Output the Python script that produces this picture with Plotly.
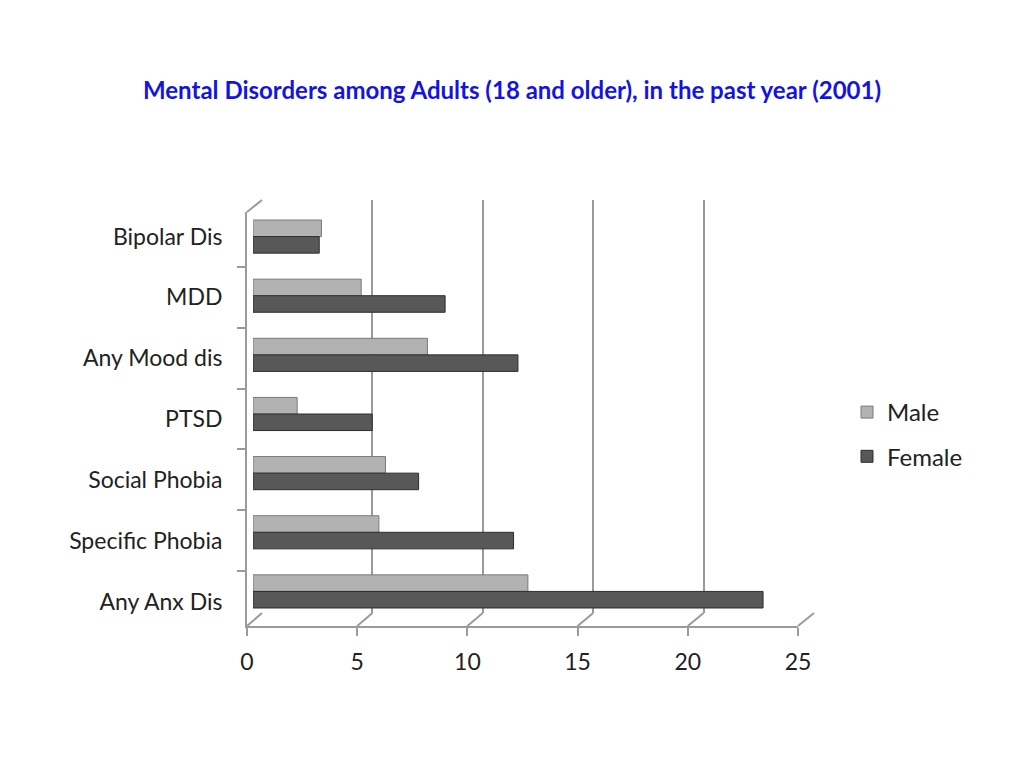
import plotly.graph_objects as go

W, H = 1024, 768
PAD = 8  # default body margin of the page

categories = ["Bipolar Dis", "MDD", "Any Mood dis", "PTSD",
              "Social Phobia", "Specific Phobia", "Any Anx Dis"]
male = [3.1, 4.9, 7.9, 2.0, 6.0, 5.7, 12.45]
female = [3.0, 8.7, 12.0, 5.4, 7.5, 11.8, 23.1]
x_ticks = [0, 5, 10, 15, 20, 25]
x_max = 25

FONT = "Lato"
GRID = "#9a9a9a"

FW, FH = W - 2 * PAD, H - 2 * PAD


def px(x):
    return (x - PAD) / FW


def py(y):
    return 1 - (y - PAD) / FH


# domains of the three layers of the fake 3d box (back wall, bars, front axes)
grid_x = [px(262), px(814)]
grid_y = [py(613), py(200)]
bar_x = [px(253), px(805)]
bar_y = [py(621), py(207)]
front_x = [px(247), px(798)]
front_y = [py(626), py(212)]

fig = go.Figure()

# back wall gridlines
fig.add_trace(go.Scatter(x=x_ticks, y=[0] * len(x_ticks), mode="markers",
                         marker=dict(opacity=0), hoverinfo="skip",
                         showlegend=False, xaxis="x", yaxis="y"))

fig.add_trace(go.Bar(name="Male", x=male, y=categories, orientation="h",
                     marker=dict(color="#b2b2b2", line=dict(color="#7a7a7a", width=1)),
                     legendgroup="m", xaxis="x2", yaxis="y2"))
fig.add_trace(go.Bar(name="Female", x=female, y=categories, orientation="h",
                     marker=dict(color="#585858", line=dict(color="#2e2e2e", width=1)),
                     legendgroup="f", xaxis="x2", yaxis="y2"))

# front axes with the labels
fig.add_trace(go.Scatter(x=[0] * len(categories), y=categories, mode="markers",
                         marker=dict(opacity=0), hoverinfo="skip",
                         showlegend=False, xaxis="x3", yaxis="y3"))


def fx(v):
    return front_x[0] + v / x_max * (front_x[1] - front_x[0])


def gx(v):
    return grid_x[0] + v / x_max * (grid_x[1] - grid_x[0])


shapes = []
for v in x_ticks:
    shapes.append(dict(type="line", xref="paper", yref="paper",
                       x0=fx(v), y0=front_y[0], x1=gx(v), y1=grid_y[0],
                       line=dict(color=GRID, width=2)))
shapes.append(dict(type="line", xref="paper", yref="paper",
                   x0=fx(0), y0=front_y[1], x1=gx(0), y1=grid_y[1],
                   line=dict(color=GRID, width=2)))

fig.update_layout(
    template="none",
    width=FW, height=FH,
    margin=dict(l=0, r=0, t=0, b=0),
    paper_bgcolor="white", plot_bgcolor="rgba(0,0,0,0)",
    font=dict(family=FONT, color="#222"),
    title=dict(text="<b>Mental Disorders among Adults (18 and older), in the past year (2001)</b>",
               x=0.5, xanchor="center", y=py(91), yanchor="middle",
               font=dict(family=FONT, size=24, color="#1414e0")),
    barmode="group", bargap=0.44, bargroupgap=0,
    xaxis=dict(domain=grid_x, range=[0, x_max], anchor="y", showgrid=True,
               gridcolor=GRID, gridwidth=2, tickvals=x_ticks, showticklabels=False,
               ticks="", zeroline=False, showline=False, automargin=False),
    yaxis=dict(domain=grid_y, range=[0, 1], anchor="x", visible=False),
    xaxis2=dict(domain=bar_x, range=[0, x_max], anchor="y2", visible=False),
    yaxis2=dict(domain=bar_y, anchor="x2", visible=False, autorange="reversed"),
    xaxis3=dict(domain=front_x, range=[0, x_max], anchor="y3", showgrid=False,
                zeroline=False, showline=True, linecolor=GRID, linewidth=2,
                ticks="outside", ticklen=8, tickwidth=2, tickcolor=GRID,
                tickvals=x_ticks, tickfont=dict(size=23, color="#222"),
                ticklabelstandoff=6, automargin=False),
    yaxis3=dict(domain=front_y, anchor="x3", showgrid=False, zeroline=False,
                showline=True, linecolor=GRID, linewidth=2, ticks="outside",
                ticklen=8, tickwidth=2, tickcolor=GRID, tickson="boundaries",
                autorange="reversed", tickfont=dict(size=23, color="#222"),
                ticklabelstandoff=18, automargin=False),
    legend=dict(x=px(847), y=py(390), xanchor="left", yanchor="top",
                traceorder="grouped", tracegroupgap=10,
                font=dict(size=24, color="#222"), bgcolor="rgba(0,0,0,0)"),
    shapes=shapes,
)

fig.write_html("out.html")
